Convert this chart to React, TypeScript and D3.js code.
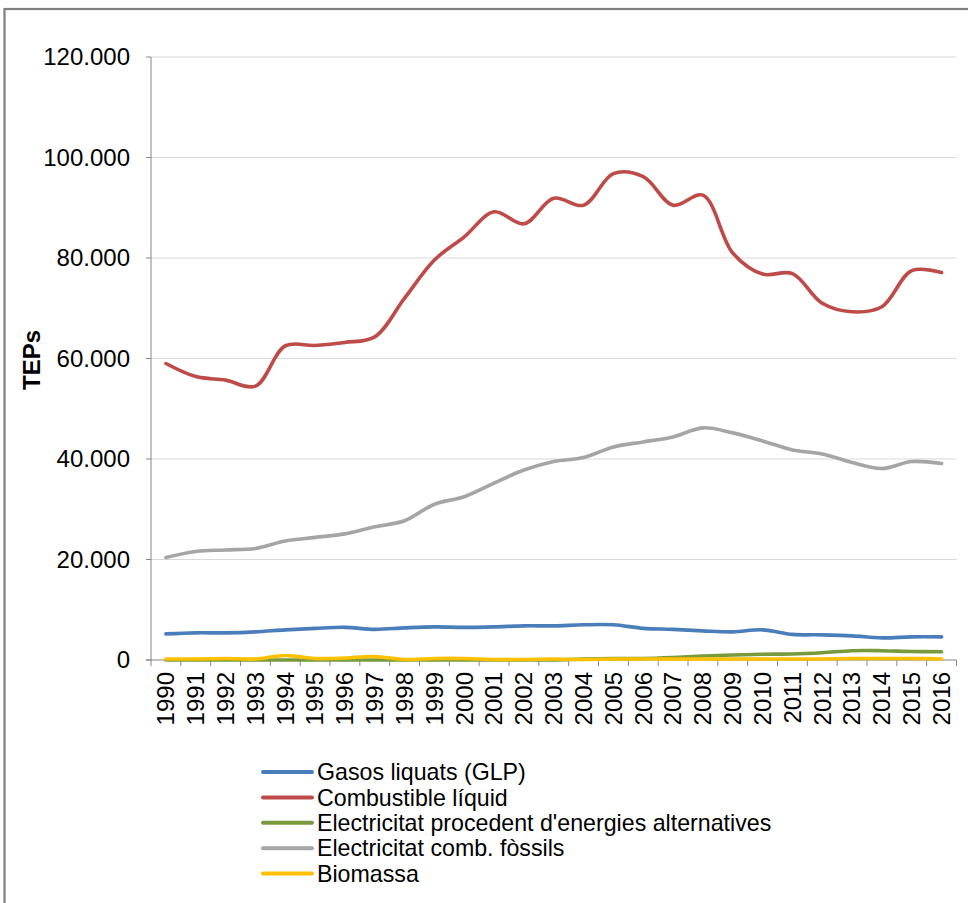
import React from "react";
import * as d3 from "d3";

const years = ["1990","1991","1992","1993","1994","1995","1996","1997","1998","1999","2000","2001","2002","2003","2004","2005","2006","2007","2008","2009","2010","2011","2012","2013","2014","2015","2016"];

const glp = [5200,5400,5400,5600,6000,6300,6500,6100,6400,6600,6500,6600,6800,6800,7000,7000,6300,6100,5800,5600,6000,5100,5000,4800,4400,4600,4600];
const combustible = [59000,56400,55700,54500,62500,62600,63200,64300,72000,79600,84200,89200,86800,91900,90500,96800,96200,90500,92500,81000,76800,76900,71000,69300,70300,77500,77100];
const alternatives = [0,0,0,0,0,0,0,0,0,0,0,0,0,0,200,300,300,500,800,1000,1150,1200,1450,1850,1850,1700,1650];
const fossils = [20400,21600,21900,22200,23700,24400,25100,26500,27700,31000,32500,35200,37800,39500,40300,42400,43400,44400,46200,45200,43600,41800,41000,39300,38100,39500,39100];
const biomassa = [200,200,300,200,900,300,400,700,100,300,300,100,100,200,100,200,200,200,200,200,200,200,200,300,300,300,200];

const seriesNames = ["Gasos liquats (GLP)","Combustible líquid","Electricitat procedent d'energies alternatives","Electricitat comb. fòssils","Biomassa"];
const seriesColors = ["#4A7EBB","#BE4B48","#789A3D","#A5A5A5","#FFC000"];
const seriesValues = [glp, combustible, alternatives, fossils, biomassa];
const yTicks = [0,20000,40000,60000,80000,100000,120000];

const W = 968, H = 903;
const left = 151, right = 956.5, top = 57, bottom = 660;

export default function App() {
  const x = d3.scaleBand<string>().domain(years).range([left, right]);
  const y = d3.scaleLinear().domain([0,120000]).range([bottom, top]);
  const cx = (yr: string) => (x(yr) as number) + x.bandwidth() / 2;
  const line = d3.line<number>()
    .x((_, i) => cx(years[i]))
    .y(d => y(d))
    .curve(d3.curveCatmullRom.alpha(0.5));
  const fmt = (v: number) => v === 0 ? "0" : d3.format(",")(v).replace(/,/g, ".");
  const font = "Arial, 'Liberation Sans', sans-serif";
  const axisColor = "#868686";
  const legendX1 = 263, legendX2 = 312, legendY0 = 772, legendStep = 25.4;

  return (
    <div style={{ position: "fixed", left: 0, top: 0, width: W, height: H, background: "#fff" }}>
      <svg width={W} height={H} style={{ display: "block" }} fontFamily={font}>
        <rect x={0} y={0} width={W} height={H} fill="#fff" />
        <rect x={4.5} y={9} width={W + 20} height={H + 20} fill="none" stroke="#7f7f7f" strokeWidth={2.2} />
        {yTicks.map(t => t > 0 && (
          <line key={"g" + t} x1={left} x2={right} y1={y(t)} y2={y(t)} stroke="#D9D9D9" strokeWidth={1} />
        ))}
        <line x1={left} x2={left} y1={top} y2={bottom} stroke={axisColor} strokeWidth={1} />
        {yTicks.map(t => (
          <g key={"yt" + t}>
            <line x1={left - 5} x2={left} y1={y(t)} y2={y(t)} stroke={axisColor} />
            <text x={130} y={y(t)} dy="0.35em" textAnchor="end" fontSize={24} fill="#000">{fmt(t)}</text>
          </g>
        ))}
        <line x1={left - 5} x2={right} y1={bottom} y2={bottom} stroke={axisColor} strokeWidth={1} />
        {years.map(yr => (
          <line key={"xt" + yr} x1={(x(yr) as number) + x.bandwidth()} x2={(x(yr) as number) + x.bandwidth()} y1={bottom} y2={bottom + 6} stroke={axisColor} />
        ))}
        <line x1={left} x2={left} y1={bottom} y2={bottom + 6} stroke={axisColor} />
        {years.map(yr => (
          <text key={"xl" + yr} transform={`translate(${cx(yr)},${bottom + 12}) rotate(-90)`} dy="0.35em" textAnchor="end" fontSize={24} fill="#000">{yr}</text>
        ))}
        <text transform={`translate(32,360) rotate(-90)`} dy="0.35em" textAnchor="middle" fontSize={24} fontWeight="bold" fill="#000">TEPs</text>
        {seriesValues.map((vals, i) => (
          <path key={"s" + i} d={line(vals) as string} fill="none" stroke={seriesColors[i]} strokeWidth={3.6} strokeLinecap="round" strokeLinejoin="round" />
        ))}
        {seriesNames.map((n, i) => (
          <g key={"lg" + i}>
            <line x1={legendX1} x2={legendX2} y1={legendY0 + i * legendStep} y2={legendY0 + i * legendStep} stroke={seriesColors[i]} strokeWidth={4} strokeLinecap="round" />
            <text x={317} y={legendY0 + i * legendStep} dy="0.35em" fontSize={23.2} fill="#000">{n}</text>
          </g>
        ))}
      </svg>
    </div>
  );
}
